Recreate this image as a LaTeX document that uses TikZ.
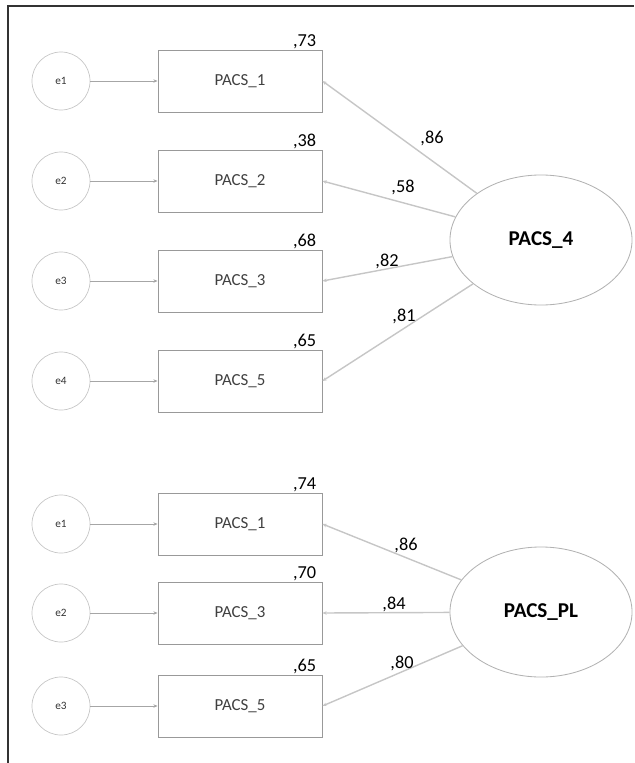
\documentclass[tikz,border=0pt]{standalone}
\usepackage{fontspec}
\setmainfont{Carlito}
\usetikzlibrary{shapes.geometric, arrows.meta, positioning}

\tikzset{
  obs/.style={draw=gray!80, line width=0.6pt, minimum width=4.1cm, minimum height=1.55cm,
    font=\fontsize{12}{14}\selectfont, text=black!75},
  err/.style={circle, draw=gray!45, line width=0.5pt, minimum size=1.45cm, inner sep=0pt,
    font=\fontsize{8}{9}\selectfont, text=black!80},
  lat/.style={ellipse, draw=gray!60, line width=0.6pt, minimum width=4.55cm, minimum height=3.25cm,
    font=\fontsize{15}{17}\selectfont\bfseries},
  coef/.style={font=\fontsize{13}{15}\selectfont, inner sep=0pt},
  flecha/.style={-{Stealth[length=3pt, width=2.5pt]}, gray!70, line width=0.5pt},
  carga/.style={-{Stealth[length=3pt, width=2.5pt]}, gray!45, line width=1pt},
}

\begin{document}
\begin{tikzpicture}[x=0.025cm, y=-0.025cm]
  \useasboundingbox (0,0) rectangle (634,763);

  % Marco (arriba e izquierda)
  \draw[line width=0.8pt, black!80] (8,763) -- (8,6) -- (634,6);

  % Primer modelo: factor PACS_4 con cuatro indicadores
  \node[lat] (f4) at (541,240) {PACS\_4};
  \foreach \i/\y/\n/\r/\c/\lx/\ly in {1/81/1/73/86/432/138, 2/181/2/38/58/403/187,
                                      3/281/3/68/82/387/261, 4/381/5/65/81/404/316} {
    \node[err] (ea\i) at (61,\y) {e\i};
    \node[obs] (pa\i) at (240,\y) {PACS\_\n};
    \node[coef, anchor=base east] (ra\i) at ([shift={(-6,-3)}]pa\i.north east) {,\r};
    \draw[flecha] (ea\i) -- (pa\i);
    \draw[carga] (f4) -- (pa\i.east);
    \node[coef] (la\i) at (\lx,\ly) {,\c};
  }

  % Segundo modelo: factor PACS_PL con tres indicadores
  \node[lat] (fp) at (541,612) {PACS\_PL};
  \foreach \i/\y/\n/\r/\c/\lx/\ly in {1/524/1/74/86/406/545, 2/613/3/70/84/394/604,
                                      3/706/5/65/80/402/663} {
    \node[err] (eb\i) at (61,\y) {e\i};
    \node[obs] (pb\i) at (240,\y) {PACS\_\n};
    \node[coef, anchor=base east] (rb\i) at ([shift={(-6,-3)}]pb\i.north east) {,\r};
    \draw[flecha] (eb\i) -- (pb\i);
    \draw[carga] (fp) -- (pb\i.east);
    \node[coef] (lb\i) at (\lx,\ly) {,\c};
  }
\end{tikzpicture}
\end{document}
